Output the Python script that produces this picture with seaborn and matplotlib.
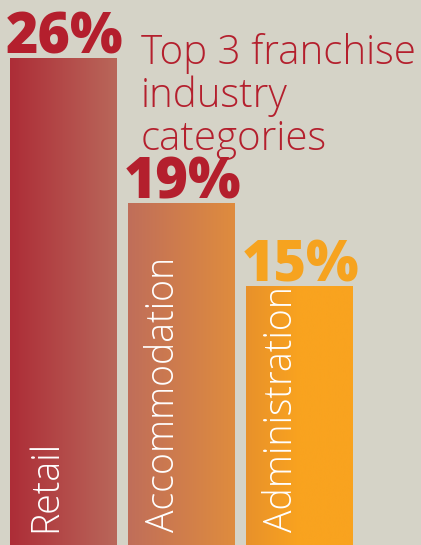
import numpy as np
import matplotlib
matplotlib.use("Agg")
import matplotlib.pyplot as plt
import seaborn as sns
from matplotlib.colors import to_rgb
from matplotlib.transforms import blended_transform_factory

categories = ["Retail", "Accommodation", "Administration"]
shares = [26, 19, 15]
value_labels = ["26%", "19%", "15%"]
title = "Top 3 franchise\nindustry\ncategories"

BG = "#d5d3c7"
RED = "#b41f2d"
ORANGE = "#f6a31f"
label_colors = [RED, RED, ORANGE]
# gradient stops (left -> right) for each bar
gradients = [
    [(0.0, "#ad2d37"), (1.0, "#b9675a")],
    [(0.0, "#c06e5a"), (1.0, "#df8c3e")],
    [(0.0, "#e8912b"), (0.5, "#f9a31f"), (1.0, "#f9a31f")],
]

sns.set_theme(style="white")
plt.rcParams["font.family"] = ["Open Sans", "DejaVu Sans"]

fig = plt.figure(figsize=(4.21, 5.45), dpi=100)
fig.patch.set_facecolor(BG)
ax = fig.add_axes([0, 0, 1, 1])
ax.set_facecolor(BG)

sns.barplot(x=categories, y=shares, width=0.9, color="white", ax=ax,
            edgecolor="none", linewidth=0)
ax.set_axis_off()


def gradient_image(stops, n=256):
    pos = np.linspace(0, 1, n)
    cols = np.array([to_rgb(c) for _, c in stops])
    xs = [p for p, _ in stops]
    img = np.stack([np.interp(pos, xs, cols[:, k]) for k in range(3)], axis=-1)
    return img[np.newaxis, :, :]


trans = blended_transform_factory(ax.transData, ax.transAxes)
for patch, stops, vlabel, lcol, cat in zip(ax.patches, gradients, value_labels,
                                           label_colors, categories):
    x0 = patch.get_x()
    x1 = x0 + patch.get_width()
    top = patch.get_height()
    img = ax.imshow(gradient_image(stops), extent=(x0, x1, 0, top),
                    aspect="auto", zorder=patch.get_zorder() + 0.1)
    img.set_clip_path(patch)

    ax.annotate(vlabel, xy=(x0, top), xytext=(-3, 3), textcoords="offset points",
                ha="left", va="baseline", fontsize=40, fontweight="heavy",
                color=lcol)
    ax.annotate(cat, xy=(x0, 0), xycoords=trans, xytext=(12, 9),
                textcoords="offset points", rotation=90, ha="left", va="bottom",
                fontsize=27, fontweight="light", color="white")

ax.set_xlim(-0.534, 3.03)
ax.set_ylim(2.5, 28.8)

fig.text(141 / 421, 1 - 33 / 545, title, ha="left", va="top",
         fontsize=29, fontweight="light", color=RED, linespacing=1.05)

fig.savefig("out.png", dpi=100, facecolor=BG)
